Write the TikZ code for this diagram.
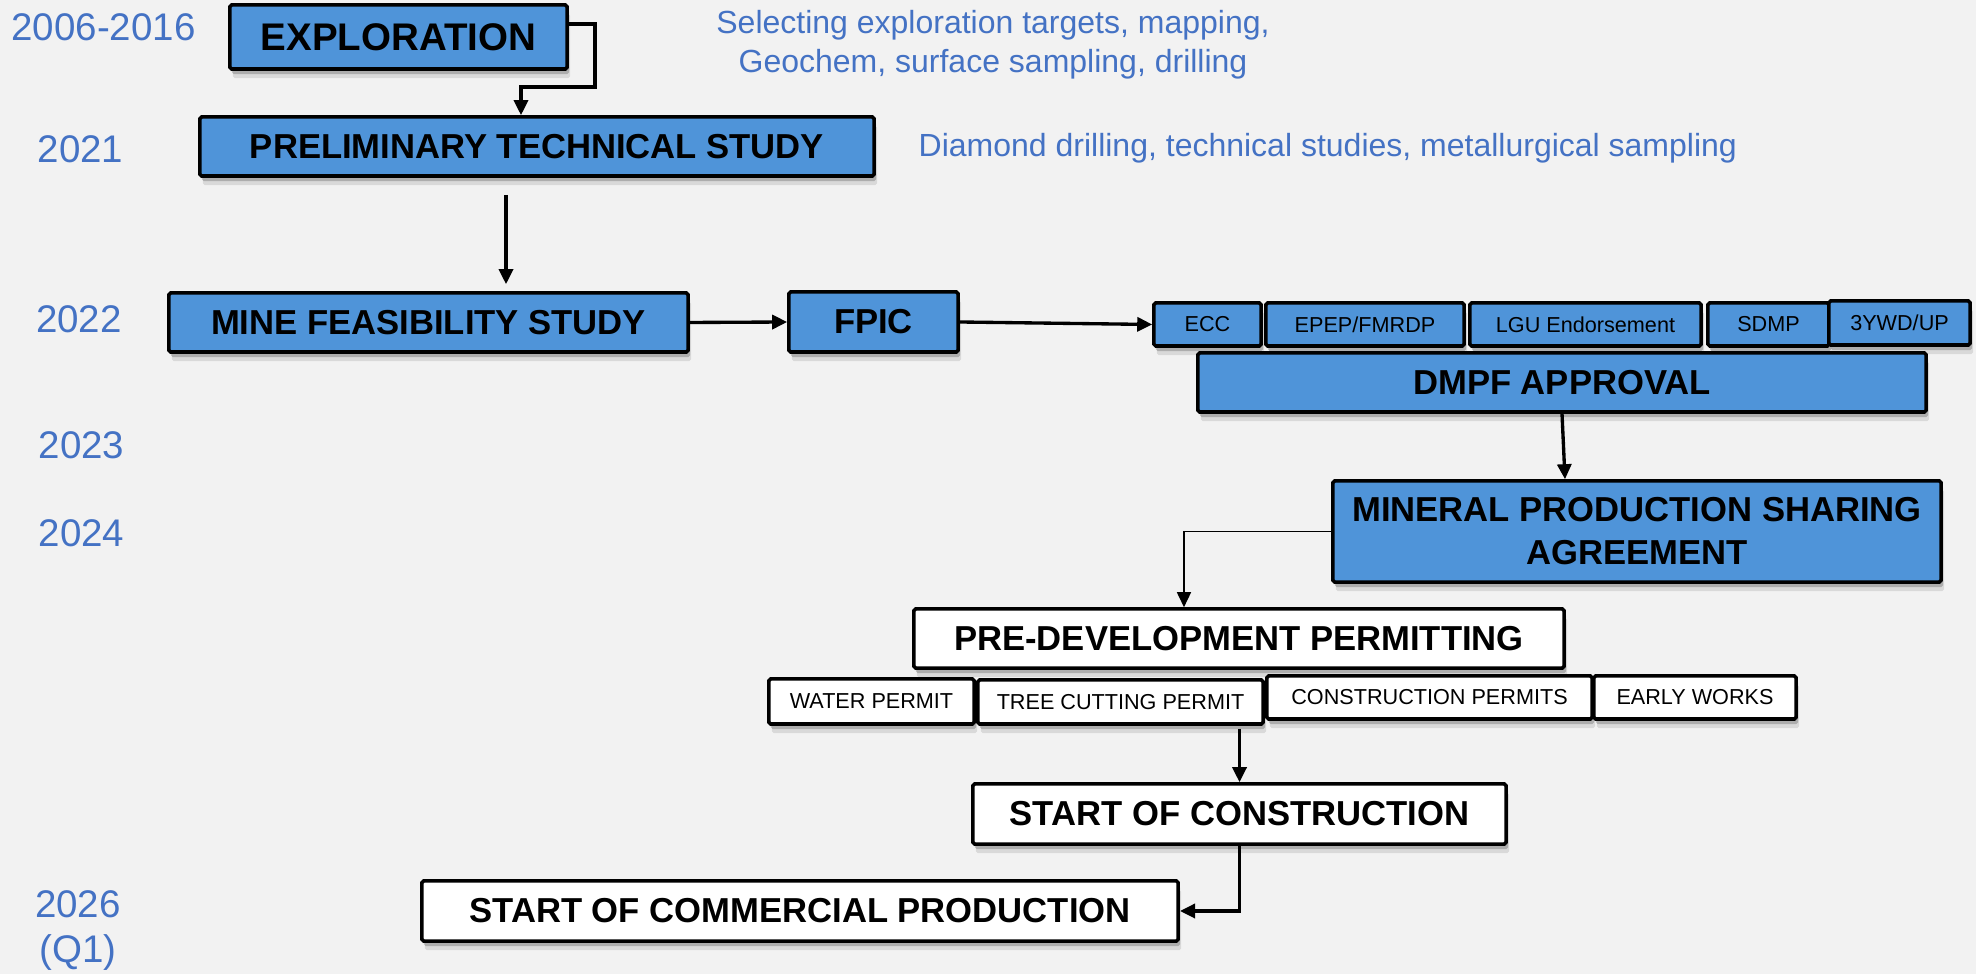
\documentclass[tikz,border=0pt]{standalone}
\usepackage{fontspec}
\setmainfont{Liberation Sans}
\usetikzlibrary{arrows.meta,shadows}
\definecolor{boxblue}{RGB}{79,148,217}
\definecolor{yearblue}{RGB}{68,114,196}
\definecolor{bggray}{RGB}{242,242,242}
\begin{document}
\begin{tikzpicture}[x=0.01cm,y=-0.01cm,>={Triangle[length=0.15cm,width=0.14cm]},
	blubox/.style={draw,line width=1pt,fill=boxblue,rounded corners=0.5pt,inner sep=0pt,align=center,
		font=\bfseries\fontsize{9.85}{12.2}\selectfont,
		drop shadow={shadow xshift=0.02cm,shadow yshift=-0.05cm,opacity=0.2,fill=black},
		drop shadow={shadow xshift=0.03cm,shadow yshift=-0.09cm,opacity=0.1,fill=black}},
	whtbox/.style={blubox,fill=white},
	tagbox/.style={blubox,font=\fontsize{6.15}{7.5}\selectfont,minimum height=0.43cm},
	year/.style={text=yearblue,font=\fontsize{10.95}{12.8}\selectfont,align=center,inner sep=0pt},
	note/.style={text=yearblue,font=\fontsize{9.1}{11.1}\selectfont,align=center,inner sep=0pt},
	arr/.style={->,line width=0.95pt}]
	\useasboundingbox (0,0) rectangle (1976,974);
	\fill[bggray] (0,0) rectangle (1976,974);
	% years
	\node[year] (y0616) at (103.5,27) {2006-2016};
	\node[year] (y21) at (80.5,149) {2021};
	\node[year] (y22) at (79,319) {2022};
	\node[year] (y23) at (81.5,445) {2023};
	\node[year] (y24) at (81.5,533) {2024};
	\node[year] (y26) at (78,931) {2026\\(Q1)};
	% notes
	\node[note,anchor=north] (n1) at (993,10) {Selecting exploration targets, mapping,\\Geochem, surface sampling, drilling};
	\node[note,anchor=base west] (n2) at (918,157) {Diamond drilling, technical studies, metallurgical sampling};
	% main boxes
	\node[blubox,minimum width=3.37cm,minimum height=0.64cm,font=\bfseries\fontsize{10.95}{13}\selectfont] (explor) at (398.5,37) {EXPLORATION};
	\node[blubox,minimum width=6.74cm,minimum height=0.59cm] (pts) at (537,146.5) {PRELIMINARY TECHNICAL STUDY};
	\node[blubox,minimum width=5.19cm,minimum height=0.59cm] (mfs) at (428.5,322.5) {MINE FEASIBILITY STUDY};
	\node[blubox,minimum width=1.69cm,minimum height=0.6cm] (fpic) at (873.5,322) {FPIC};
	\node[tagbox,minimum width=1.07cm] (ecc) at (1207.5,324.5) {ECC};
	\node[tagbox,minimum width=1.98cm] (epep) at (1365,324.5) {EPEP/FMRDP};
	\node[tagbox,minimum width=2.31cm] (lgu) at (1585.5,324.5) {LGU Endorsement};
	\node[tagbox,minimum width=1.21cm] (sdmp) at (1768.5,324.5) {SDMP};
	\node[tagbox,minimum width=1.41cm,minimum height=0.44cm] (ywd) at (1899.5,323) {3YWD/UP};
	\node[blubox,minimum width=7.28cm,minimum height=0.59cm] (dmpf) at (1562,382.5) {DMPF APPROVAL};
	\node[blubox,minimum width=6.08cm,minimum height=1.01cm] (mpsa) at (1637,531.5) {MINERAL PRODUCTION SHARING\\AGREEMENT};
	\node[whtbox,minimum width=6.5cm,minimum height=0.59cm] (pdp) at (1239,638.5) {PRE-DEVELOPMENT PERMITTING};
	\node[tagbox,fill=white,minimum width=2.05cm,minimum height=0.45cm] (water) at (871.5,701.5) {WATER PERMIT};
	\node[tagbox,fill=white,minimum width=2.85cm,minimum height=0.44cm] (tree) at (1120.5,702) {TREE CUTTING PERMIT};
	\node[tagbox,fill=white,minimum width=3.25cm] (cons) at (1429.5,697.5) {CONSTRUCTION PERMITS};
	\node[tagbox,fill=white,minimum width=2.02cm] (early) at (1695,697.5) {EARLY WORKS};
	\node[whtbox,minimum width=5.33cm,minimum height=0.6cm] (soc) at (1239.5,814) {START OF CONSTRUCTION};
	\node[whtbox,minimum width=7.56cm,minimum height=0.6cm] (scp) at (800,911) {START OF COMMERCIAL PRODUCTION};
	% connectors
	\draw[arr] ([yshift=0.13cm]explor.east) -| ++(26,63) -| ([xshift=-0.16cm]pts.north);
	\draw[arr] ([shift={(-31,17)}]pts.south) -- ([shift={(77.5,-7)}]mfs.north);
	\draw[arr] (mfs.east) -- (fpic.west);
	\draw[arr] (fpic.east) -- (ecc.west);
	\draw[arr] (dmpf.south) -- ([xshift=0.03cm]mpsa.north -| dmpf.south);
	\draw[->,line width=0.45pt] (mpsa.west) -| ([xshift=-0.55cm]pdp.north);
	\draw[arr] ([yshift=-0.03cm]tree.south -| soc.north) -- (soc.north);
	\draw[arr] (soc.south) |- (scp.east);
\end{tikzpicture}
\end{document}
